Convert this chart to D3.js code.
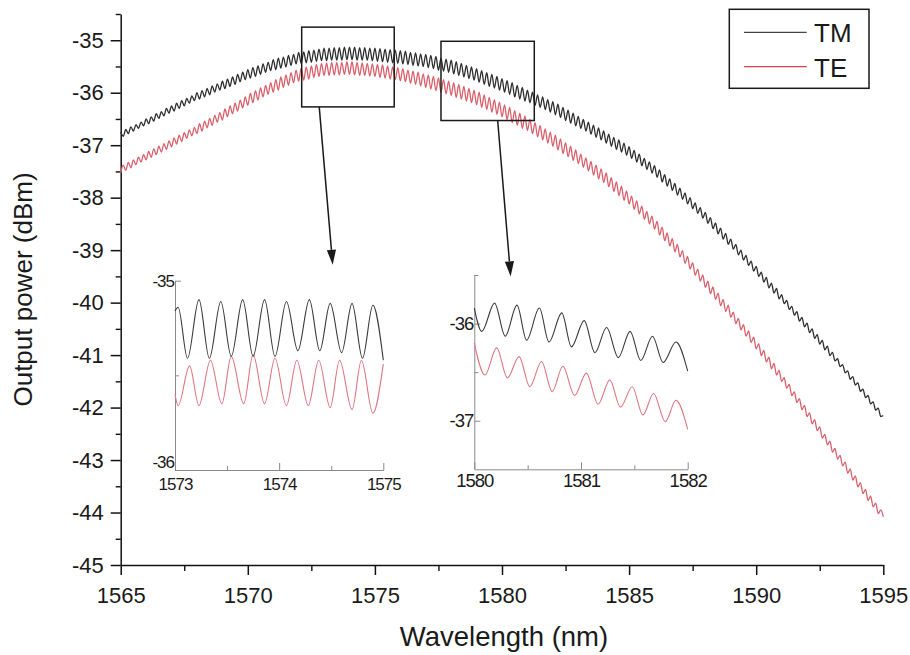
<!DOCTYPE html>
<html><head><meta charset="utf-8">
<script src="https://cdn.jsdelivr.net/npm/d3@7/dist/d3.min.js"></script>
<style>
html,body{margin:0;padding:0;background:#fff;}
svg{display:block;}
text{font-family:"Liberation Sans",Arial,Helvetica,sans-serif;fill:#1a1a1a;}
</style></head><body>
<svg id="chart" width="910" height="655"></svg>
<script>
// ---------------- DATA ----------------
const seriesNames = ["TM", "TE"];
const xTitle = "Wavelength (nm)";
const yTitle = "Output power (dBm)";
const mainXTicks = [1565, 1570, 1575, 1580, 1585, 1590, 1595];
const mainXMinor = [1567.5, 1572.5, 1577.5, 1582.5, 1587.5, 1592.5];
const mainYTicks = [-35, -36, -37, -38, -39, -40, -41, -42, -43, -44, -45];
const mainYMinor = [-34.5, -35.5, -36.5, -37.5, -38.5, -39.5, -40.5, -41.5, -42.5, -43.5, -44.5];
const mainXDomain = [1565, 1595];
const mainYDomain = [-45, -34.5];
// main spectra: one sample every 0.1 nm from 1565 to 1595 nm (fringe extrema)
const mainSampleCount = 301;
const tmMain = [
-36.75,-36.83,-36.70,-36.78,-36.65,-36.73,-36.61,-36.68,-36.56,-36.63,
-36.50,-36.59,-36.46,-36.54,-36.40,-36.49,-36.36,-36.44,-36.30,-36.39,
-36.25,-36.35,-36.20,-36.30,-36.15,-36.25,-36.11,-36.20,-36.06,-36.15,
-36.00,-36.12,-35.96,-36.08,-35.92,-36.04,-35.87,-35.99,-35.83,-35.95,
-35.78,-35.92,-35.74,-35.88,-35.70,-35.84,-35.65,-35.79,-35.61,-35.75,
-35.56,-35.72,-35.52,-35.69,-35.49,-35.65,-35.45,-35.61,-35.42,-35.58,
-35.37,-35.56,-35.34,-35.53,-35.32,-35.51,-35.29,-35.48,-35.27,-35.45,
-35.23,-35.44,-35.22,-35.43,-35.20,-35.42,-35.19,-35.40,-35.17,-35.39,
-35.15,-35.39,-35.15,-35.38,-35.14,-35.38,-35.14,-35.38,-35.13,-35.37,
-35.13,-35.37,-35.13,-35.38,-35.14,-35.38,-35.14,-35.38,-35.15,-35.39,
-35.15,-35.40,-35.16,-35.41,-35.17,-35.42,-35.18,-35.43,-35.19,-35.44,
-35.20,-35.45,-35.21,-35.46,-35.23,-35.48,-35.24,-35.49,-35.26,-35.50,
-35.27,-35.52,-35.29,-35.54,-35.31,-35.57,-35.34,-35.59,-35.36,-35.61,
-35.38,-35.64,-35.41,-35.67,-35.44,-35.70,-35.48,-35.73,-35.51,-35.76,
-35.54,-35.80,-35.58,-35.84,-35.62,-35.88,-35.65,-35.91,-35.69,-35.95,
-35.73,-35.99,-35.77,-36.03,-35.81,-36.08,-35.86,-36.12,-35.90,-36.16,
-35.95,-36.19,-35.99,-36.24,-36.04,-36.28,-36.08,-36.32,-36.13,-36.37,
-36.17,-36.42,-36.22,-36.47,-36.28,-36.53,-36.33,-36.58,-36.39,-36.63,
-36.45,-36.68,-36.51,-36.73,-36.56,-36.79,-36.62,-36.85,-36.67,-36.90,
-36.73,-36.96,-36.79,-37.02,-36.85,-37.08,-36.90,-37.13,-36.96,-37.19,
-37.03,-37.25,-37.10,-37.32,-37.17,-37.39,-37.25,-37.46,-37.32,-37.53,
-37.39,-37.61,-37.47,-37.70,-37.56,-37.78,-37.64,-37.86,-37.73,-37.95,
-37.82,-38.03,-37.91,-38.12,-38.00,-38.21,-38.10,-38.30,-38.19,-38.39,
-38.28,-38.49,-38.38,-38.59,-38.48,-38.69,-38.58,-38.79,-38.68,-38.89,
-38.79,-38.98,-38.89,-39.09,-39.00,-39.19,-39.10,-39.29,-39.21,-39.40,
-39.31,-39.50,-39.42,-39.61,-39.52,-39.72,-39.63,-39.82,-39.73,-39.93,
-39.85,-40.02,-39.96,-40.13,-40.07,-40.24,-40.17,-40.35,-40.28,-40.46,
-40.39,-40.57,-40.50,-40.68,-40.61,-40.79,-40.72,-40.90,-40.83,-41.01,
-40.95,-41.11,-41.07,-41.22,-41.18,-41.34,-41.30,-41.46,-41.41,-41.57,
-41.53,-41.69,-41.65,-41.81,-41.77,-41.93,-41.89,-42.05,-42.01,-42.17,
-42.15];
const teMain = [
-37.53,-37.38,-37.48,-37.33,-37.43,-37.28,-37.37,-37.23,-37.32,-37.18,
-37.28,-37.12,-37.23,-37.07,-37.18,-37.02,-37.13,-36.97,-37.08,-36.92,
-37.03,-36.86,-36.98,-36.81,-36.93,-36.76,-36.87,-36.71,-36.82,-36.66,
-36.78,-36.59,-36.73,-36.54,-36.67,-36.49,-36.62,-36.43,-36.56,-36.38,
-36.52,-36.31,-36.46,-36.25,-36.40,-36.20,-36.35,-36.14,-36.29,-36.08,
-36.24,-36.01,-36.19,-35.96,-36.14,-35.91,-36.08,-35.86,-36.03,-35.81,
-35.99,-35.75,-35.95,-35.70,-35.90,-35.66,-35.86,-35.62,-35.81,-35.57,
-35.78,-35.53,-35.76,-35.51,-35.74,-35.49,-35.71,-35.46,-35.69,-35.44,
-35.67,-35.43,-35.67,-35.42,-35.66,-35.42,-35.66,-35.42,-35.65,-35.41,
-35.65,-35.41,-35.66,-35.42,-35.67,-35.43,-35.67,-35.44,-35.68,-35.45,
-35.69,-35.46,-35.71,-35.47,-35.72,-35.49,-35.74,-35.51,-35.75,-35.52,
-35.77,-35.54,-35.79,-35.57,-35.82,-35.59,-35.84,-35.61,-35.87,-35.64,
-35.90,-35.66,-35.93,-35.69,-35.96,-35.72,-35.99,-35.75,-36.02,-35.78,
-36.05,-35.81,-36.09,-35.84,-36.12,-35.88,-36.16,-35.92,-36.19,-35.95,
-36.23,-35.99,-36.28,-36.04,-36.32,-36.09,-36.37,-36.13,-36.41,-36.18,
-36.46,-36.23,-36.51,-36.28,-36.57,-36.34,-36.62,-36.39,-36.68,-36.44,
-36.72,-36.51,-36.78,-36.57,-36.84,-36.63,-36.90,-36.69,-36.96,-36.75,
-37.02,-36.81,-37.09,-36.88,-37.16,-36.95,-37.22,-37.02,-37.29,-37.09,
-37.35,-37.17,-37.42,-37.24,-37.49,-37.31,-37.57,-37.38,-37.64,-37.45,
-37.71,-37.53,-37.79,-37.62,-37.88,-37.70,-37.96,-37.78,-38.05,-37.87,
-38.12,-37.97,-38.22,-38.06,-38.31,-38.16,-38.41,-38.26,-38.50,-38.35,
-38.60,-38.45,-38.71,-38.56,-38.82,-38.67,-38.92,-38.78,-39.03,-38.89,
-39.13,-39.01,-39.25,-39.12,-39.36,-39.24,-39.48,-39.36,-39.59,-39.47,
-39.71,-39.59,-39.83,-39.70,-39.94,-39.82,-40.06,-39.94,-40.17,-40.05,
-40.28,-40.18,-40.40,-40.30,-40.52,-40.42,-40.64,-40.54,-40.76,-40.66,
-40.88,-40.78,-41.01,-40.91,-41.13,-41.04,-41.26,-41.16,-41.38,-41.29,
-41.50,-41.43,-41.63,-41.56,-41.77,-41.70,-41.90,-41.83,-42.04,-41.96,
-42.17,-42.10,-42.31,-42.23,-42.44,-42.37,-42.58,-42.51,-42.71,-42.64,
-42.85,-42.78,-42.98,-42.91,-43.11,-43.04,-43.25,-43.17,-43.38,-43.30,
-43.51,-43.43,-43.64,-43.56,-43.77,-43.69,-43.89,-43.82,-44.02,-43.95,
-44.08];

// inset A (1573-1575 nm)
const insAXDomain = [1573, 1575];
const insAYDomain = [-36, -35];
const insAXTicks = [1573, 1574, 1575];
const insAXMinor = [1573.5, 1574.5];
const insAYTicks = [-35, -36];
const insAYMinor = [-35.5];
const insATmWl  = [1573.00,1573.03,1573.12,1573.23,1573.33,1573.44,1573.54,1573.65,1573.75,1573.86,1573.96,1574.07,1574.18,1574.29,1574.39,1574.49,1574.60,1574.70,1574.80,1574.90,1575.00];
const insATmVal = [-35.16,-35.14,-35.41,-35.10,-35.41,-35.11,-35.40,-35.10,-35.40,-35.10,-35.40,-35.11,-35.37,-35.10,-35.37,-35.12,-35.38,-35.12,-35.41,-35.13,-35.42];
const insATeWl  = [1573.00,1573.03,1573.14,1573.23,1573.34,1573.45,1573.54,1573.66,1573.75,1573.86,1573.96,1574.07,1574.17,1574.28,1574.38,1574.49,1574.58,1574.70,1574.79,1574.90,1575.00];
const insATeVal = [-35.60,-35.66,-35.45,-35.66,-35.42,-35.65,-35.40,-35.65,-35.39,-35.65,-35.41,-35.66,-35.42,-35.66,-35.42,-35.67,-35.42,-35.68,-35.42,-35.70,-35.44];

// inset B (1580-1582 nm)
const insBXDomain = [1580, 1582];
const insBYDomain = [-37.5, -35.5];
const insBXTicks = [1580, 1581, 1582];
const insBXMinor = [1580.5, 1581.5];
const insBYTicks = [-36, -37];
const insBYMinor = [-35.5, -36.5];
const insBTmWl  = [1580.00,1580.07,1580.19,1580.29,1580.40,1580.49,1580.61,1580.70,1580.82,1580.91,1581.03,1581.13,1581.24,1581.35,1581.46,1581.56,1581.67,1581.77,1581.89,1582.00];
const insBTmVal = [-35.84,-36.08,-35.79,-36.13,-35.81,-36.17,-35.84,-36.19,-35.89,-36.24,-35.97,-36.30,-36.04,-36.35,-36.08,-36.38,-36.13,-36.40,-36.19,-36.49];
const insBTeWl  = [1580.00,1580.10,1580.21,1580.31,1580.42,1580.52,1580.63,1580.73,1580.83,1580.94,1581.05,1581.16,1581.27,1581.37,1581.48,1581.58,1581.68,1581.79,1581.89,1582.00];
const insBTeVal = [-36.20,-36.53,-36.25,-36.56,-36.34,-36.65,-36.39,-36.70,-36.44,-36.74,-36.51,-36.83,-36.58,-36.86,-36.65,-36.94,-36.72,-37.01,-36.79,-37.09];

// zoom boxes on main plot (data coordinates) and arrow endpoints
const boxWl   = [[1572.12, 1575.76], [1577.60, 1581.27]];
const boxPow  = [[-34.75, -36.27], [-35.02, -36.53]];
const arrowWl  = [[1572.81, 1573.34], [1579.83, 1580.34]];
const arrowPow = [[-36.27, -39.28], [-36.53, -39.50]];

// ---------------- DRAW ----------------
const colors = {TM: "#2e2e2e", TE: "#d9606b"};
const fmt = d => String(d);   // plain hyphen-minus like the original
const svg = d3.select("#chart");
svg.append("rect").attr("width", 910).attr("height", 655).attr("fill", "#fff");

const mainWl = d3.range(mainSampleCount).map(i => mainXDomain[0] + i / 10);
const x = d3.scaleLinear().domain(mainXDomain).range([120.7, 883.3]);
const y = d3.scaleLinear().domain(mainYDomain).range([565, 14]);

function styleAxis(g, color, width) {
  g.selectAll("path.domain").attr("stroke", color).attr("stroke-width", width);
  g.selectAll(".tick line").attr("stroke", color).attr("stroke-width", width);
}
const gxMinor = svg.append("g").attr("transform", `translate(0,${y(mainYDomain[0])})`)
  .call(d3.axisBottom(x).tickValues(mainXMinor).tickSize(6).tickFormat(""));
gxMinor.select("path.domain").remove();
styleAxis(gxMinor, "#111", 1.4);
const gx = svg.append("g").attr("transform", `translate(0,${y(mainYDomain[0])})`)
  .call(d3.axisBottom(x).tickValues(mainXTicks).tickSize(10).tickSizeOuter(0).tickPadding(12).tickFormat(fmt));
styleAxis(gx, "#111", 1.5);
gx.selectAll("text").attr("font-size", 22).attr("fill", "#1a1a1a");

const gyMinor = svg.append("g").attr("transform", `translate(${x(mainXDomain[0])},0)`)
  .call(d3.axisLeft(y).tickValues(mainYMinor).tickSize(5).tickFormat(""));
gyMinor.select("path.domain").remove();
styleAxis(gyMinor, "#111", 1.4);
const gy = svg.append("g").attr("transform", `translate(${x(mainXDomain[0])},0)`)
  .call(d3.axisLeft(y).tickValues(mainYTicks).tickSize(10).tickSizeOuter(0).tickPadding(7).tickFormat(fmt));
styleAxis(gy, "#111", 1.5);
gy.selectAll("text").attr("font-size", 22).attr("fill", "#1a1a1a");

// titles
svg.append("text").attr("x", (x.range()[0] + x.range()[1]) / 2 + 2).attr("y", 646)
  .attr("text-anchor", "middle").attr("font-size", 27.5).text(xTitle);
svg.append("text").attr("transform", `translate(32,${(y.range()[0] + y.range()[1]) / 2}) rotate(-90)`)
  .attr("text-anchor", "middle").attr("font-size", 26).text(yTitle);

// main curves
const mainLine = d3.line().x((d, i) => x(mainWl[i])).y(d => y(d)).curve(d3.curveMonotoneX);
svg.append("path").attr("d", mainLine(teMain)).attr("fill", "none")
  .attr("stroke", colors.TE).attr("stroke-width", 1.3);
svg.append("path").attr("d", mainLine(tmMain)).attr("fill", "none")
  .attr("stroke", colors.TM).attr("stroke-width", 1.3);

// zoom boxes
boxWl.forEach((wl, k) => {
  svg.append("rect")
    .attr("x", x(wl[0])).attr("y", y(boxPow[k][0]))
    .attr("width", x(wl[1]) - x(wl[0])).attr("height", y(boxPow[k][1]) - y(boxPow[k][0]))
    .attr("fill", "none").attr("stroke", "#1a1a1a").attr("stroke-width", 1.5);
});
// arrows
arrowWl.forEach((wl, k) => {
  const x0 = x(wl[0]), y0 = y(arrowPow[k][0]), x1 = x(wl[1]), y1 = y(arrowPow[k][1]);
  const ang = Math.atan2(y1 - y0, x1 - x0), L = 15, hw = 4.6;
  const bx = x1 - L * Math.cos(ang), by = y1 - L * Math.sin(ang);
  svg.append("line").attr("x1", x0).attr("y1", y0).attr("x2", bx).attr("y2", by)
    .attr("stroke", "#1a1a1a").attr("stroke-width", 1.5);
  const px = -Math.sin(ang) * hw, py = Math.cos(ang) * hw;
  svg.append("path")
    .attr("d", `M${x1},${y1}L${bx + px},${by + py}L${bx - px},${by - py}Z`)
    .attr("fill", "#1a1a1a");
});

// insets
function drawInset(xDom, yDom, xr, yr, xt, xm, yt, ym, tmWl, tmVal, teWl, teVal, fs, xPad, yLabelShift) {
  const ix = d3.scaleLinear().domain(xDom).range(xr);
  const iy = d3.scaleLinear().domain(yDom).range(yr);
  const g = svg.append("g");
  const axCol = "#8a8a8a";
  const bm = g.append("g").attr("transform", `translate(0,${yr[0]})`)
    .call(d3.axisBottom(ix).tickValues(xm).tickSize(-4).tickFormat(""));
  bm.select("path.domain").remove(); styleAxis(bm, axCol, 1);
  const bx = g.append("g").attr("transform", `translate(0,${yr[0]})`)
    .call(d3.axisBottom(ix).tickValues(xt).tickSize(-7).tickSizeOuter(0).tickPadding(xPad).tickFormat(fmt));
  styleAxis(bx, axCol, 1);
  bx.selectAll("text").attr("font-size", fs).attr("letter-spacing", "-1px").attr("fill", "#1a1a1a");
  const lm = g.append("g").attr("transform", `translate(${xr[0]},0)`)
    .call(d3.axisLeft(iy).tickValues(ym).tickSize(-4).tickFormat(""));
  lm.select("path.domain").remove(); styleAxis(lm, axCol, 1);
  const lx = g.append("g").attr("transform", `translate(${xr[0]},0)`)
    .call(d3.axisLeft(iy).tickValues(yt).tickSize(-6).tickSizeOuter(0).tickPadding(1).tickFormat(fmt));
  styleAxis(lx, axCol, 1);
  lx.selectAll("text").attr("font-size", fs).attr("letter-spacing", "-1px").attr("fill", "#1a1a1a")
    .attr("dy", (d, i) => (i === yt.length - 1 ? yLabelShift : "0.32em"));
  const ln = (wl) => d3.line().x((d, i) => ix(wl[i])).y(d => iy(d)).curve(d3.curveMonotoneX);
  g.append("path").attr("d", ln(teWl)(teVal)).attr("fill", "none").attr("stroke", "#de7680").attr("stroke-width", 1.1);
  g.append("path").attr("d", ln(tmWl)(tmVal)).attr("fill", "none").attr("stroke", "#3a3a3a").attr("stroke-width", 1.1);
}
drawInset(insAXDomain, insAYDomain, [175, 383.3], [470, 280.7], insAXTicks, insAXMinor, insAYTicks, insAYMinor,
  insATmWl, insATmVal, insATeWl, insATeVal, 17, 7.5, "-0.12em");
drawInset(insBXDomain, insBYDomain, [474.3, 687.7], [469.3, 275], insBXTicks, insBXMinor, insBYTicks, insBYMinor,
  insBTmWl, insBTmVal, insBTeWl, insBTeVal, 18.5, 5, "0.32em");

// legend
const lg = svg.append("g");
lg.append("rect").attr("x", 729.3).attr("y", 9.3).attr("width", 139.7).attr("height", 79)
  .attr("fill", "#fff").attr("stroke", "#1a1a1a").attr("stroke-width", 1.5);
seriesNames.forEach((s, k) => {
  const cy = 32.3 + k * 34.4;
  lg.append("line").attr("x1", 744).attr("x2", 806.7).attr("y1", cy).attr("y2", cy)
    .attr("stroke", k === 0 ? "#444" : "#d8404c").attr("stroke-width", 1.2);
  lg.append("text").attr("x", 814).attr("y", cy + 10).attr("font-size", 26).text(s);
});
</script>
</body></html>
